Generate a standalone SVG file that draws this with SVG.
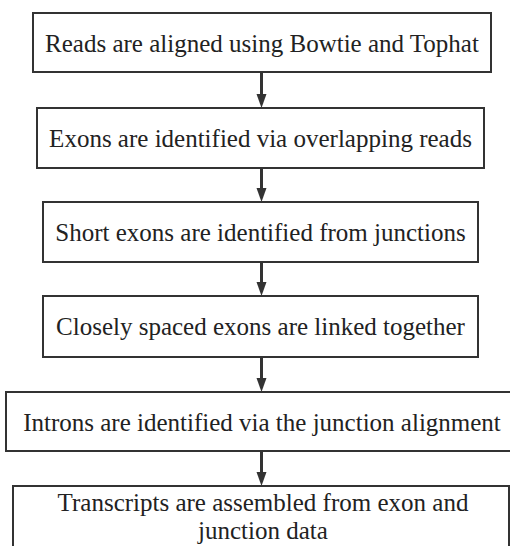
<svg xmlns="http://www.w3.org/2000/svg" width="510" height="546" viewBox="0 0 510 546">
<defs>
<style>
.box{fill:#fff;stroke:#333;stroke-width:2}
.t{font-family:'Liberation Serif','Times New Roman',Times,'DejaVu Serif',serif;font-size:25px;fill:#222;text-anchor:middle}
.c{stroke:#333;stroke-width:3;fill:none}
.h{fill:#333}
</style>
</defs>
<rect width="510" height="546" fill="#fff"/>
<g id="connectors">
<line class="c" x1="261.5" y1="73" x2="261.5" y2="94"/>
<path class="h" d="M256.5,94 L266.5,94 L261.5,108 Z"/>
<line class="c" x1="261.5" y1="169" x2="261.5" y2="188"/>
<path class="h" d="M256.5,188 L266.5,188 L261.5,202 Z"/>
<line class="c" x1="261.5" y1="263" x2="261.5" y2="282"/>
<path class="h" d="M256.5,282 L266.5,282 L261.5,296 Z"/>
<line class="c" x1="261.5" y1="358" x2="261.5" y2="378"/>
<path class="h" d="M256.5,378 L266.5,378 L261.5,392 Z"/>
<line class="c" x1="261.5" y1="452" x2="261.5" y2="472"/>
<path class="h" d="M256.5,472 L266.5,472 L261.5,486 Z"/>
</g>
<g id="n1"><rect class="box" x="33" y="13" width="458" height="59"/><text class="t" font-family="Liberation Serif, serif" x="262" y="52">Reads are aligned using Bowtie and Tophat</text></g>
<g id="n2"><rect class="box" x="37" y="108" width="447" height="60"/><text class="t" font-family="Liberation Serif, serif" x="260.5" y="147">Exons are identified via overlapping reads</text></g>
<g id="n3"><rect class="box" x="43" y="202" width="435" height="60"/><text class="t" font-family="Liberation Serif, serif" x="260.5" y="241">Short exons are identified from junctions</text></g>
<g id="n4"><rect class="box" x="43" y="296" width="435" height="61"/><text class="t" font-family="Liberation Serif, serif" x="260.5" y="335">Closely spaced exons are linked together</text></g>
<g id="n5"><rect class="box" x="6" y="392" width="512" height="59"/><text class="t" font-family="Liberation Serif, serif" x="262" y="431">Introns are identified via the junction alignment</text></g>
<g id="n6"><rect class="box" x="13" y="486" width="496" height="72"/><text class="t" font-family="Liberation Serif, serif" x="263" y="511">Transcripts are assembled from exon and</text><text class="t" font-family="Liberation Serif, serif" x="263" y="539">junction data</text></g>
</svg>
